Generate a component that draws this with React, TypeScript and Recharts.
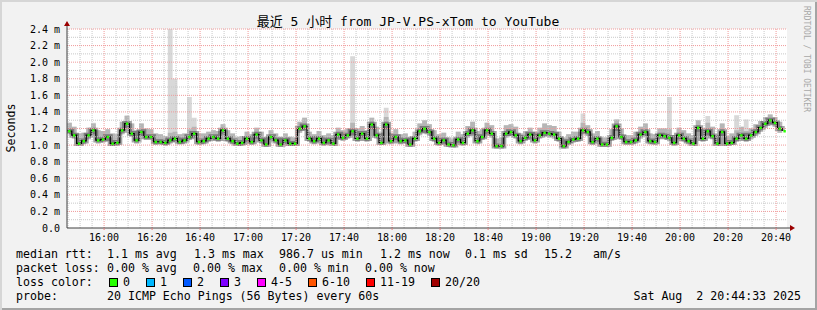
import React from "react"
import { ComposedChart, Area, Line, XAxis, YAxis, CartesianGrid, ReferenceLine, ReferenceDot } from "recharts"

// 5 hour window, 2 minute samples, minutes since midnight
const START = 15 * 60 + 44 + 33 / 60
const END = START + 300
const STEP = 2

const median = [
  1.17, 1.12, 1.02, 1.05, 1.12, 1.18, 1.06, 1.07, 1.10, 1.02,
  1.03, 1.18, 1.26, 1.14, 1.06, 1.16, 1.10, 1.10, 1.04, 1.04,
  1.03, 1.06, 1.08, 1.04, 1.06, 1.10, 1.14, 1.04, 1.05, 1.08,
  1.10, 1.08, 1.18, 1.08, 1.05, 1.02, 1.03, 1.08, 1.04, 1.13,
  1.06, 1.01, 1.10, 1.06, 1.01, 1.06, 1.02, 1.02, 1.20, 1.23,
  1.08, 1.05, 1.08, 1.03, 1.06, 1.02, 1.13, 1.09, 1.12, 1.17,
  1.08, 1.14, 1.08, 1.25, 1.12, 1.03, 1.25, 1.05, 1.10, 1.05,
  1.06, 1.01, 1.08, 1.17, 1.20, 1.16, 1.08, 1.03, 1.06, 1.01,
  1.00, 1.07, 1.03, 1.14, 1.18, 1.05, 1.10, 1.18, 1.14, 0.99,
  0.99, 1.14, 1.16, 1.12, 1.05, 1.09, 1.13, 1.06, 1.12, 1.15,
  1.14, 1.13, 1.08, 0.99, 1.04, 1.07, 1.08, 1.18, 1.16, 1.04,
  1.08, 1.01, 1.01, 1.09, 1.23, 1.10, 1.04, 1.04, 1.06, 1.13,
  1.16, 1.05, 1.04, 1.12, 1.11, 1.09, 1.03, 1.12, 1.08, 1.05,
  1.02, 1.21, 1.08, 1.17, 1.11, 1.02, 1.16, 1.02, 1.03, 1.08,
  1.12, 1.08, 1.12, 1.16, 1.21, 1.26, 1.30, 1.27, 1.20, 1.17,
]

// how far the smoke reaches above / below the median (ms)
const smokeUp = [
  0.10, 0.10, 0.12, 0.10, 0.09, 0.08, 0.12, 0.10, 0.09, 0.12,
  0.10, 0.10, 0.09, 0.12, 0.12, 0.10, 0.10, 0.09, 0.10, 0.09,
  0.08, 0.09, 0.08, 0.09, 0.08, 0.09, 0.08, 0.10, 0.09, 0.08,
  0.08, 0.09, 0.07, 0.10, 0.09, 0.08, 0.08, 0.08, 0.09, 0.08,
  0.10, 0.09, 0.08, 0.08, 0.09, 0.08, 0.08, 0.07, 0.08, 0.10,
  0.08, 0.08, 0.09, 0.09, 0.08, 0.10, 0.08, 0.09, 0.08, 0.10,
  0.12, 0.09, 0.10, 0.08, 0.10, 0.12, 0.09, 0.10, 0.09, 0.08,
  0.08, 0.09, 0.08, 0.09, 0.10, 0.09, 0.10, 0.10, 0.09, 0.08,
  0.08, 0.09, 0.10, 0.09, 0.10, 0.12, 0.09, 0.09, 0.10, 0.09,
  0.10, 0.10, 0.09, 0.10, 0.09, 0.08, 0.08, 0.10, 0.09, 0.11,
  0.10, 0.10, 0.08, 0.10, 0.09, 0.09, 0.08, 0.09, 0.08, 0.10,
  0.09, 0.08, 0.08, 0.10, 0.08, 0.10, 0.08, 0.08, 0.10, 0.09,
  0.10, 0.09, 0.09, 0.08, 0.09, 0.10, 0.09, 0.09, 0.10, 0.09,
  0.10, 0.09, 0.12, 0.10, 0.11, 0.10, 0.10, 0.09, 0.11, 0.10,
  0.10, 0.09, 0.08, 0.09, 0.08, 0.08, 0.07, 0.07, 0.08, 0.07,
]

const smokeDown = [
  0.04, 0.04, 0.03, 0.04, 0.05, 0.05, 0.04, 0.04, 0.05, 0.03,
  0.04, 0.05, 0.05, 0.04, 0.04, 0.05, 0.04, 0.04, 0.04, 0.03,
  0.04, 0.04, 0.04, 0.03, 0.04, 0.04, 0.05, 0.04, 0.04, 0.04,
  0.04, 0.04, 0.05, 0.04, 0.04, 0.03, 0.04, 0.04, 0.04, 0.05,
  0.04, 0.03, 0.04, 0.04, 0.03, 0.04, 0.03, 0.03, 0.05, 0.05,
  0.04, 0.04, 0.04, 0.04, 0.04, 0.03, 0.05, 0.04, 0.04, 0.05,
  0.04, 0.05, 0.04, 0.06, 0.04, 0.03, 0.06, 0.04, 0.04, 0.04,
  0.04, 0.03, 0.04, 0.05, 0.05, 0.05, 0.04, 0.04, 0.04, 0.03,
  0.03, 0.04, 0.04, 0.05, 0.05, 0.04, 0.04, 0.05, 0.05, 0.03,
  0.03, 0.05, 0.05, 0.04, 0.04, 0.04, 0.05, 0.04, 0.04, 0.05,
  0.05, 0.05, 0.04, 0.03, 0.04, 0.04, 0.04, 0.05, 0.05, 0.04,
  0.04, 0.03, 0.03, 0.04, 0.06, 0.04, 0.04, 0.04, 0.04, 0.05,
  0.05, 0.04, 0.04, 0.05, 0.04, 0.04, 0.04, 0.05, 0.04, 0.04,
  0.03, 0.05, 0.04, 0.05, 0.04, 0.03, 0.05, 0.03, 0.03, 0.04,
  0.05, 0.04, 0.05, 0.05, 0.05, 0.05, 0.05, 0.05, 0.05, 0.05,
]

// single slow pings (max of the smoke)
const spikeIdx = [5, 12, 21, 22, 25, 26, 59, 66, 107, 125, 133, 139, 141]
const spikeVal = [1.27, 1.36, 2.4, 1.8, 1.58, 1.33, 2.07, 1.45, 1.38, 1.58, 1.35, 1.36, 1.31]

const timeTicks = [960, 980, 1000, 1020, 1040, 1060, 1080, 1100, 1120, 1140, 1160, 1180, 1200, 1220, 1240]
const secTicks = [0, 0.2, 0.4, 0.6, 0.8, 1.0, 1.2, 1.4, 1.6, 1.8, 2.0, 2.2, 2.4]

const lossLabels = ["0", "1", "2", "3", "4-5", "6-10", "11-19", "20/20"]
const lossColors = ["#26ff00", "#00b8ff", "#0059ff", "#7e00ff", "#ff00ff", "#ff5500", "#ff0000", "#a10000"]

const rttStats = ["1.1 ms avg", "1.3 ms max", "986.7 us min", "1.2 ms now", "0.1 ms sd", "15.2", "am/s"]
const rttX = [107, 194, 279, 380, 465, 544, 593]
const lossStats = ["0.00 % avg", "0.00 % max", "0.00 % min", "0.00 % now"]
const lossX = [107, 193, 279, 365]

const title = "最近 5 小时 from JP-V.PS-xTom to YouTube"
const probe = "20 ICMP Echo Pings (56 Bytes) every 60s"
const stamp = "Sat Aug \u00a02 20:44:33 2025"

const data = median.map((m, i) => {
  const lo = m - smokeDown[i]
  const hi = m + smokeUp[i]
  const s = spikeIdx.indexOf(i)
  const top = s >= 0 ? Math.max(spikeVal[s], hi) : hi
  return { t: START + i * STEP, median: m, smoke: [lo, hi], peak: [lo, top] }
})

const W = 817
const H = 310
const M = { top: 29, right: 30, bottom: 62, left: 0 }
const PLOT_W = W - 67 - M.right
const STEP_PX = (PLOT_W * STEP) / (END - START)

const MONO = "'DejaVu Sans Mono', 'Noto Sans CJK SC', monospace"

const minorT: number[] = []
for (let t = 945; t < END; t += 5) if (t % 20 !== 0) minorT.push(t)
const minorS: number[] = []
for (let i = 1; i < 24; i += 2) minorS.push(i / 10)

const hhmm = (v: number) => {
  const h = Math.floor(v / 60)
  const m = Math.round(v % 60)
  return `${h}:${m < 10 ? "0" : ""}${m}`
}

const YTick = (p: any) => {
  const v = p.payload.value
  return (
    <text x={60} y={p.y + 3.5} textAnchor="end" fontSize={10} fontFamily={MONO} fill="#000">
      {v === 0 ? "0.0" : `${v.toFixed(1)} m`}
    </text>
  )
}

// loss colour marks sit on the median, one per sample
const LossDot = (p: any) => {
  if (p.cx == null || p.cy == null) return <g key={p.key} />
  return <rect key={p.key} x={p.cx + STEP_PX / 4} y={p.cy - 1} width={STEP_PX / 2} height={2.5} fill={lossColors[0]} />
}

const UpArrow = (p: any) => (
  <g>
    <line x1={p.cx} y1={p.cy} x2={p.cx} y2={p.cy - 4} stroke="#404040" />
    <polygon points={`${p.cx - 3},${p.cy - 3} ${p.cx + 3},${p.cy - 3} ${p.cx},${p.cy - 8}`} fill="#9b0000" />
  </g>
)

const RightArrow = (p: any) => (
  <g>
    <line x1={p.cx} y1={p.cy} x2={p.cx + 4} y2={p.cy} stroke="#404040" />
    <polygon points={`${p.cx + 3},${p.cy - 3} ${p.cx + 3},${p.cy + 3} ${p.cx + 8},${p.cy}`} fill="#9b0000" />
  </g>
)

function Legend() {
  const sq: number[] = []
  let x = 109
  lossLabels.forEach((l) => {
    sq.push(x)
    x += 30 + 7 * l.length
  })
  const fs = 11.6
  return (
    <svg width={W} height={H} style={{ position: "absolute", left: 0, top: 0, pointerEvents: "none" }}>
      <g fontFamily={MONO} fill="#000">
        <text x={408} y={26} fontSize={13} textAnchor="middle">{title}</text>
        <text x={15} y={128} fontSize={11.6} textAnchor="middle" transform="rotate(-90 15 128)">Seconds</text>
        <text x={804} y={59} fontSize={8} fill="#a8a8a8" textAnchor="middle" transform="rotate(90 804 59)">RRDTOOL / TOBI OETIKER</text>

        <text x={16} y={258} fontSize={fs}>median rtt:</text>
        {rttStats.map((s, i) => <text key={s} x={rttX[i]} y={258} fontSize={fs}>{s}</text>)}
        <text x={16} y={272} fontSize={fs}>packet loss:</text>
        {lossStats.map((s, i) => <text key={s} x={lossX[i]} y={272} fontSize={fs}>{s}</text>)}
        <text x={16} y={286} fontSize={fs}>loss color:</text>
        {lossLabels.map((l, i) => (
          <g key={l}>
            <rect x={sq[i] + 0.5} y={278.5} width={8} height={8} fill={lossColors[i]} stroke="#000" />
            <text x={sq[i] + 14} y={286} fontSize={fs}>{l}</text>
          </g>
        ))}
        <text x={16} y={300} fontSize={fs}>probe:</text>
        <text x={107} y={300} fontSize={fs}>{probe}</text>
        <text x={801} y={300} fontSize={fs} textAnchor="end">{stamp}</text>
      </g>
    </svg>
  )
}

export default function App() {
  return (
    <div
      style={{
        position: "absolute",
        left: 0,
        top: 0,
        width: W,
        height: H,
        background: "#f2f2f2",
        boxShadow: "inset 2px 2px 0 #d6d6d6, inset -2px -2px 0 #a4a4a4",
      }}
    >
      <ComposedChart width={W} height={H} data={data} margin={M}>
        <CartesianGrid horizontal={false} vertical={false} fill="#ffffff" />
        <XAxis
          dataKey="t"
          type="number"
          domain={[START, END]}
          ticks={timeTicks}
          interval={0}
          tickFormatter={hhmm}
          allowDataOverflow
          height={20}
          tickSize={2}
          tickMargin={4}
          axisLine={{ stroke: "#404040" }}
          tickLine={{ stroke: "#e08080" }}
          tick={{ fontSize: 10, fill: "#000", stroke: "none", fontFamily: MONO }}
        />
        <YAxis
          type="number"
          domain={[0, 2.4]}
          ticks={secTicks}
          interval={0}
          allowDataOverflow
          width={67}
          tickLine={false}
          axisLine={{ stroke: "#404040" }}
          tick={YTick}
        />
        <Area dataKey="peak" type="stepAfter" fill="#d8d8d8" fillOpacity={1} stroke="none" isAnimationActive={false} />
        <Area dataKey="smoke" type="stepAfter" fill="#b6b6b6" fillOpacity={1} stroke="none" isAnimationActive={false} />
        <Line dataKey="median" type="stepAfter" stroke="#333" strokeOpacity={0.45} strokeWidth={5} dot={false} activeDot={false} isAnimationActive={false} />
        <Line dataKey="median" type="stepAfter" stroke="#000" strokeWidth={1.2} dot={LossDot} activeDot={false} isAnimationActive={false} />
        {minorT.map((t) => (
          <ReferenceLine key={"vx" + t} x={t} stroke="#c8c8c8" strokeDasharray="1 1" />
        ))}
        {minorS.map((s) => (
          <ReferenceLine key={"hy" + s} y={s} stroke="#c8c8c8" strokeDasharray="1 1" />
        ))}
        {timeTicks.map((t) => (
          <ReferenceLine key={"VX" + t} x={t} stroke="#f09a9a" strokeDasharray="1 1" />
        ))}
        {secTicks.slice(1).map((s) => (
          <ReferenceLine key={"HY" + s} y={s} stroke="#f09a9a" strokeDasharray="1 1" />
        ))}
        <ReferenceDot x={START} y={2.4} r={0} shape={UpArrow} />
        <ReferenceDot x={END} y={0} r={0} shape={RightArrow} />
      </ComposedChart>
      <Legend />
    </div>
  )
}
